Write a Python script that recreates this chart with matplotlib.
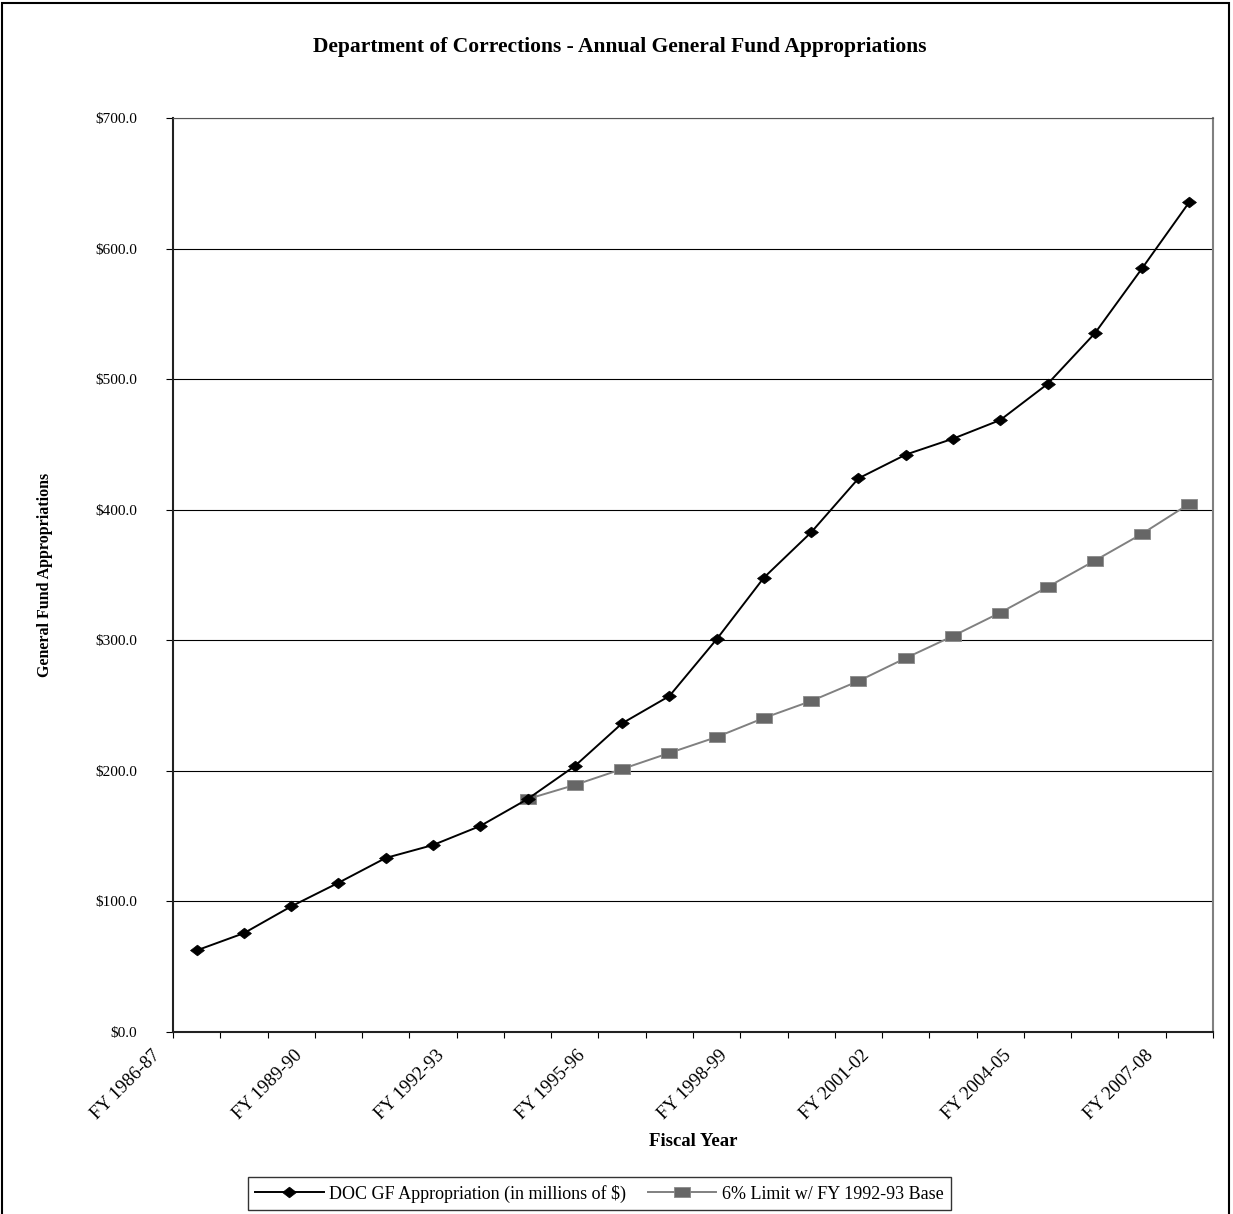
import numpy as np
import matplotlib
matplotlib.use("Agg")
import matplotlib.pyplot as plt
from matplotlib.ticker import FixedLocator, StrMethodFormatter
from matplotlib.patches import Rectangle
from matplotlib.transforms import ScaledTranslation

plt.rcParams['font.family'] = ['Liberation Serif', 'DejaVu Serif']

# fiscal years on the category axis
years = ["FY 1986-87", "FY 1987-88", "FY 1988-89", "FY 1989-90", "FY 1990-91",
         "FY 1991-92", "FY 1992-93", "FY 1993-94", "FY 1994-95", "FY 1995-96",
         "FY 1996-97", "FY 1997-98", "FY 1998-99", "FY 1999-00", "FY 2000-01",
         "FY 2001-02", "FY 2002-03", "FY 2003-04", "FY 2004-05", "FY 2005-06",
         "FY 2006-07", "FY 2007-08"]

# general fund appropriations, millions of $
doc_gf = [62.5, 75.7, 96.2, 114.3, 133.3, 143.2, 157.8, 178.4, 203.7, 236.4,
          257.3, 300.8, 348.0, 382.7, 424.0, 442.2, 454.4, 468.7, 496.3, 535.1,
          584.9, 635.7]

# 6% growth limit from the 1992-93 base (starts at FY 1993-94)
limit_start = 7
limit_6pct = [178.4, 189.2, 201.4, 213.7, 225.9, 240.5, 253.5, 268.8, 286.4,
              303.3, 321.2, 340.8, 361.0, 381.6, 404.6]

x = np.arange(len(years))
x_lim = np.arange(limit_start, limit_start + len(limit_6pct))

fig = plt.figure(figsize=(12.33, 12.14), dpi=100)
ax = fig.add_axes([0.1403, 0.1499, 0.8435, 0.7529])

# slightly wide markers, like the stretched originals
diamond = [(-1.3, 0), (0, 1), (1.3, 0), (0, -1), (-1.3, 0)]
box = [(-1.45, -1), (1.45, -1), (1.45, 1), (-1.45, 1), (-1.45, -1)]

ax.plot(x, doc_gf, color="black", lw=1.4, marker=diamond, ms=10,
        mfc="black", mec="black", mew=0.5, zorder=4,
        label="DOC GF Appropriation (in millions of $)")
ax.plot(x_lim, limit_6pct, color="#808080", lw=1.4, marker=box, ms=11,
        mfc="#666666", mec="#8a8a8a", mew=0.6, zorder=3,
        label="6% Limit w/ FY 1992-93 Base")

ax.set_xlim(-0.5, len(years) - 0.5)
ax.set_ylim(0, 700)

# y axis
ax.set_yticks(np.arange(0, 701, 100))
ax.yaxis.set_major_formatter(StrMethodFormatter("${x:.1f}"))
ax.tick_params(axis="y", direction="out", length=5, width=0.8, pad=21,
               labelsize=11, colors="black")
ax.yaxis.grid(True, color="black", lw=0.8)
ax.set_axisbelow(True)

# x axis: marks between categories, a label every third year
ax.xaxis.set_minor_locator(FixedLocator(np.arange(-0.5, len(years), 1.0)))
ax.set_xticks(x[::3])
ax.set_xticklabels(years[::3], rotation=45, ha="right", va="center",
                   rotation_mode="anchor", fontsize=13.5)
ax.tick_params(axis="x", which="major", length=0, pad=0)
ax.tick_params(axis="x", which="minor", direction="out", length=4.5, width=0.8)
shift = ScaledTranslation(-0.39, -0.21, fig.dpi_scale_trans)
for lbl in ax.get_xticklabels():
    lbl.set_transform(lbl.get_transform() + shift)

for side in ["left", "bottom"]:
    ax.spines[side].set_linewidth(1.5)
    ax.spines[side].set_color("#222222")
ax.spines["right"].set_linewidth(1.5)
ax.spines["right"].set_color("#808080")
ax.spines["top"].set_linewidth(0.8)
ax.spines["top"].set_color("#555555")

fig.text(0.5025, 0.961, "Department of Corrections - Annual General Fund Appropriations",
         ha="center", va="center", fontsize=15.5, fontweight="bold")
fig.text(0.562, 0.060, "Fiscal Year", ha="center", va="center",
         fontsize=13.5, fontweight="bold")
fig.text(0.0365, 0.526, "General Fund Appropriations", ha="center", va="center",
         rotation=90, fontsize=11.5, fontweight="bold")

leg = fig.legend(loc="lower center", bbox_to_anchor=(0.486, -0.004), ncol=2,
                 fontsize=13, frameon=True, fancybox=False, handlelength=3.8,
                 columnspacing=1.2, handletextpad=0.3, borderpad=0.4)
leg.get_frame().set_edgecolor("black")
leg.get_frame().set_linewidth(1.0)

# outer chart border (bottom edge runs off the page)
fig.patches.append(Rectangle((0.002, -0.02), 0.995, 1.0 - 0.0025 + 0.02,
                             transform=fig.transFigure, fill=False,
                             edgecolor="black", lw=1.5))

plt.savefig("out.png", dpi=100)
